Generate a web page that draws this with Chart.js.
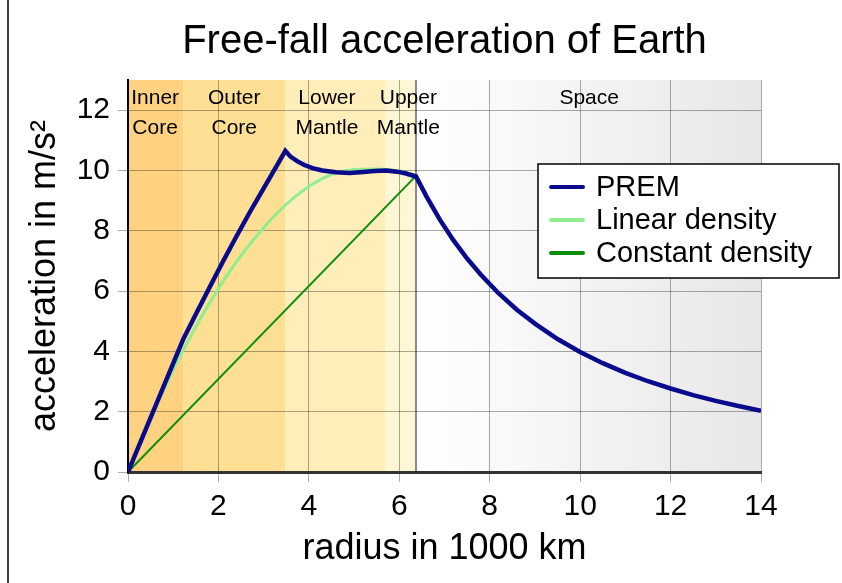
<!DOCTYPE html>
<html>
<head>
<meta charset="utf-8">
<script src="https://cdn.jsdelivr.net/npm/chart.js@4/dist/chart.umd.min.js"></script>
<style>
  html, body { margin: 0; padding: 0; background: #ffffff; }
  #wrap { width: 842px; height: 583px; }
</style>
</head>
<body>
<div id="wrap"><canvas id="c" width="842" height="583"></canvas></div>
<script>
// ---- data (radius in 1000 km, acceleration in m/s^2) ----
const premRadius = [0, 1.22, 1.5, 1.8, 2.1, 2.4, 2.7, 3.0, 3.25, 3.48, 3.6, 3.75, 3.9, 4.1, 4.3, 4.6, 4.9, 5.2, 5.45, 5.7, 5.95, 6.15, 6.37, 6.6, 6.9, 7.2, 7.5, 7.8, 8.2, 8.6, 9.0, 9.5, 10, 10.5, 11, 11.5, 12, 12.5, 13, 13.5, 14];
const premAccel  = [0, 4.4, 5.23, 6.11, 6.98, 7.82, 8.63, 9.41, 10.05, 10.65, 10.45, 10.3, 10.18, 10.07, 10.0, 9.94, 9.92, 9.95, 9.98, 10.0, 9.96, 9.9, 9.8, 9.14, 8.36, 7.68, 7.08, 6.55, 5.92, 5.38, 4.92, 4.41, 3.98, 3.61, 3.29, 3.01, 2.77, 2.55, 2.36, 2.19, 2.03];

const linRadius = [0, 0.5, 1, 1.5, 2, 2.5, 3, 3.5, 4, 4.5, 5, 5.5, 6, 6.37];
const linAccel  = [0, 1.78, 3.38, 4.82, 6.08, 7.18, 8.1, 8.88, 9.47, 9.86, 10.03, 10.05, 9.98, 9.82];

const constRadius = [0, 6.37];
const constAccel  = [0, 9.82];

const seriesNames = ['PREM', 'Linear density', 'Constant density'];

// layers of the Earth: boundaries (1000 km) and labels
const layerEdges  = [0, 1.22, 3.48, 5.7, 6.37, 14];
const layerNames  = [['Inner', 'Core'], ['Outer', 'Core'], ['Lower', 'Mantle'], ['Upper', 'Mantle'], ['Space']];
const layerLabelAt = [0.6, 2.35, 4.4, 6.2, 10.2];

const xTicks = [0, 2, 4, 6, 8, 10, 12, 14];
const yTicks = [0, 2, 4, 6, 8, 10, 12];

// ---- styling ----
const FONT = "'Liberation Sans', Arial, Helvetica, sans-serif";
const layerColors = ['#ffd281', '#ffdf93', '#ffedba', '#fff6d4'];
const lineColors = ['#0a0a8c', '#90ee90', '#0a8f0a'];
const lineWidths = [4.5, 3, 2];

function pts(xs, ys) { return xs.map((x, i) => ({ x: x, y: ys[i] })); }

const bgPlugin = {
  id: 'layers',
  beforeDraw(chart) {
    const { ctx, chartArea: a, scales: { x } } = chart;
    ctx.save();
    // outer frame line at the left
    ctx.strokeStyle = '#000';
    ctx.lineWidth = 1.5;
    ctx.beginPath(); ctx.moveTo(8, 0); ctx.lineTo(8, chart.height); ctx.stroke();
    for (let i = 0; i < layerEdges.length - 1; i++) {
      const x0 = x.getPixelForValue(layerEdges[i]);
      const x1 = x.getPixelForValue(layerEdges[i + 1]);
      if (i < layerColors.length) {
        ctx.fillStyle = layerColors[i];
      } else {
        const g = ctx.createLinearGradient(x0, 0, x1, 0);
        g.addColorStop(0, '#ffffff');
        g.addColorStop(1, '#e7e7e7');
        ctx.fillStyle = g;
      }
      ctx.fillRect(x0, a.top, x1 - x0, a.bottom - a.top);
    }
    ctx.restore();
  },
  beforeDatasetsDraw(chart) {
    const { ctx, chartArea: a, scales: { x } } = chart;
    ctx.save();
    // Earth surface line
    const xs = x.getPixelForValue(layerEdges[4]);
    ctx.strokeStyle = 'rgba(0,0,0,0.6)';
    ctx.lineWidth = 1.5;
    ctx.beginPath(); ctx.moveTo(xs, a.top); ctx.lineTo(xs, a.bottom); ctx.stroke();
    ctx.fillStyle = '#000';
    ctx.font = '21px ' + FONT;
    ctx.textAlign = 'center';
    ctx.textBaseline = 'middle';
    layerNames.forEach((lines, i) => {
      const px = x.getPixelForValue(layerLabelAt[i]);
      lines.forEach((t, j) => ctx.fillText(t, px, a.top + 18 + j * 30));
    });
    ctx.restore();
  },
  afterDraw(chart) {
    const { ctx, chartArea: a } = chart;
    ctx.save();
    const lx = a.right - 223, ly = a.top + 84, lw = 301, lh = 114;
    ctx.fillStyle = '#fff';
    ctx.fillRect(lx, ly, lw, lh);
    ctx.strokeStyle = '#000';
    ctx.lineWidth = 1.5;
    ctx.strokeRect(lx, ly, lw, lh);
    ctx.font = '29px ' + FONT;
    ctx.textAlign = 'left';
    ctx.textBaseline = 'middle';
    seriesNames.forEach((n, i) => {
      const cy = ly + 23 + i * 33;
      ctx.strokeStyle = lineColors[i];
      ctx.lineWidth = 4;
      ctx.lineCap = 'round';
      ctx.beginPath(); ctx.moveTo(lx + 13, cy); ctx.lineTo(lx + 45, cy); ctx.stroke();
      ctx.fillStyle = '#000';
      ctx.fillText(n, lx + 58, cy + 1);
    });
    ctx.restore();
  }
};

new Chart(document.getElementById('c'), {
  type: 'scatter',
  data: {
    datasets: [
      { label: seriesNames[0], data: pts(premRadius, premAccel), showLine: true, borderColor: lineColors[0], borderWidth: lineWidths[0], pointRadius: 0, tension: 0, borderJoinStyle: 'miter' },
      { label: seriesNames[1], data: pts(linRadius, linAccel), showLine: true, borderColor: lineColors[1], borderWidth: lineWidths[1], pointRadius: 0, cubicInterpolationMode: 'monotone' },
      { label: seriesNames[2], data: pts(constRadius, constAccel), showLine: true, borderColor: lineColors[2], borderWidth: lineWidths[2], pointRadius: 0 }
    ]
  },
  options: {
    responsive: false,
    animation: false,
    events: [],
    layout: { padding: { left: 10, right: 81, top: 0, bottom: 0 } },
    plugins: {
      legend: { display: false },
      tooltip: { enabled: false },
      title: {
        display: true,
        fullSize: false,
        text: 'Free-fall acceleration of Earth',
        color: '#000',
        font: { family: FONT, size: 40, weight: 'normal' },
        padding: { top: 18, bottom: 14 }
      }
    },
    scales: {
      x: {
        type: 'linear', min: 0, max: 14,
        afterFit(s) { s.height = 111; },
        afterBuildTicks(s) { s.ticks = xTicks.map(v => ({ value: v })); },
        ticks: { color: '#000', font: { family: FONT, size: 30 }, padding: 7, maxRotation: 0 },
        grid: { color: 'rgba(0,0,0,0.33)', lineWidth: 1, tickLength: 10, tickColor: 'rgba(0,0,0,0.33)' },
        border: { color: '#333', width: 3 },
        title: { display: true, text: 'radius in 1000 km', color: '#000', font: { family: FONT, size: 36 }, padding: { bottom: 12 } }
      },
      y: {
        type: 'linear', min: 0, max: 13,
        afterFit(s) { s.width = 118; },
        afterBuildTicks(s) { s.ticks = yTicks.map(v => ({ value: v })); },
        ticks: { color: '#000', font: { family: FONT, size: 30 }, padding: 8 },
        grid: { color: 'rgba(0,0,0,0.33)', lineWidth: 1, tickLength: 10, tickColor: 'rgba(0,0,0,0.33)' },
        border: { color: '#000', width: 2 },
        title: { display: true, text: 'acceleration in m/s²', color: '#000', font: { family: FONT, size: 36 }, padding: { top: 13 } }
      }
    }
  },
  plugins: [bgPlugin]
});
</script>
</body>
</html>
